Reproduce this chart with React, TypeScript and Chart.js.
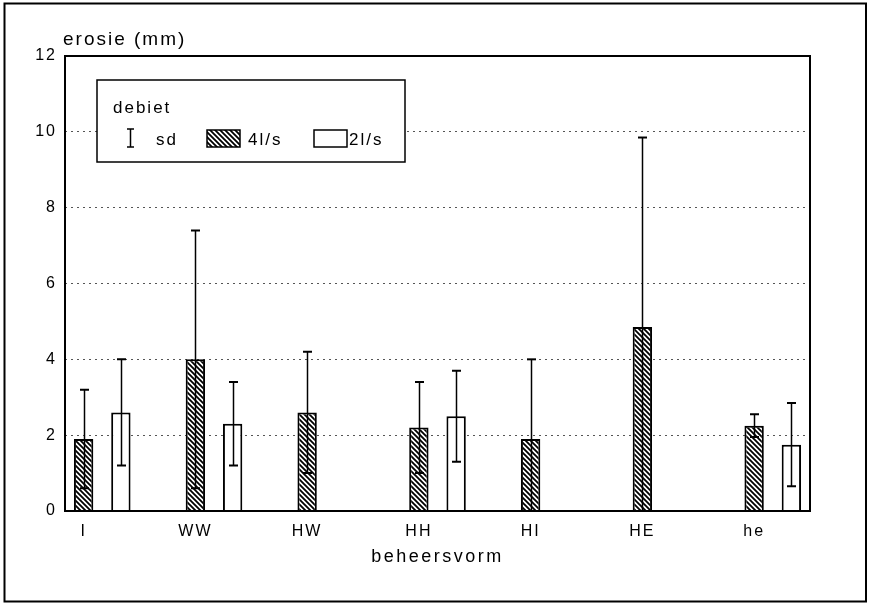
import React, { useEffect, useRef } from 'react';
import { Chart, registerables } from 'chart.js';

Chart.register(...registerables);

// ---- data ----
const categories = ['I', 'WW', 'HW', 'HH', 'HI', 'HE', 'he'];
const erosion4 = [1.9, 4.0, 2.6, 2.2, 1.9, 4.85, 2.25];
const sd4 = [1.3, 3.4, 1.6, 1.2, 2.1, 5.0, 0.3];
const erosion2: (number | null)[] = [2.6, 2.3, null, 2.5, null, null, 1.75];
const sd2: (number | null)[] = [1.4, 1.1, null, 1.2, null, null, 1.1];
const yMin = 0;
const yMax = 12;
const yStep = 2;
const yTitle = 'erosie (mm)';
const xTitle = 'beheersvorm';
const legendTitle = 'debiet';
const legendSd = 'sd';
const series4Label = '4l/s';
const series2Label = '2l/s';

const FONT = '"Liberation Sans", Arial, Helvetica, sans-serif';

// each category uses 3 slots: hatched bar, open bar, gap (last gap dropped)
const nSlots = categories.length * 3 - 1;
const slotLabels: string[] = [];
const slot4: (number | null)[] = [];
const slot2: (number | null)[] = [];
const slotSd4: (number | null)[] = [];
const slotSd2: (number | null)[] = [];
for (let k = 0; k < nSlots; k++) {
  const c = Math.floor(k / 3);
  const r = k % 3;
  slotLabels.push(r === 0 ? categories[c] : '');
  slot4.push(r === 0 ? erosion4[c] : null);
  slotSd4.push(r === 0 ? sd4[c] : null);
  slot2.push(r === 1 ? erosion2[c] : null);
  slotSd2.push(r === 1 ? sd2[c] : null);
}

function makeHatch(ctx: CanvasRenderingContext2D) {
  const c = document.createElement('canvas');
  c.width = 5;
  c.height = 5;
  const g = c.getContext('2d')!;
  g.fillStyle = '#fff';
  g.fillRect(0, 0, 5, 5);
  g.strokeStyle = '#000';
  g.lineWidth = 1.8;
  g.beginPath();
  g.moveTo(-1, -1);
  g.lineTo(6, 6);
  g.moveTo(-1, 4);
  g.lineTo(1, 6);
  g.moveTo(4, -1);
  g.lineTo(6, 1);
  g.stroke();
  return ctx.createPattern(c, 'repeat')!;
}

export default function App() {
  const ref = useRef<HTMLCanvasElement | null>(null);

  useEffect(() => {
    const canvas = ref.current!;
    const ctx0 = canvas.getContext('2d')!;
    const hatch = makeHatch(ctx0);

    const decor = {
      id: 'decor',
      beforeDraw(chart: any) {
        const ctx = chart.ctx;
        ctx.save();
        ctx.fillStyle = '#fff';
        ctx.fillRect(0, 0, chart.width, chart.height);
        ctx.restore();
        ctx.letterSpacing = '2px';
      },
      afterDatasetsDraw(chart: any) {
        const ctx = chart.ctx as CanvasRenderingContext2D;
        const ca = chart.chartArea;
        const yScale = chart.scales.y;
        ctx.save();
        ctx.beginPath();
        ctx.rect(ca.left, ca.top, ca.right - ca.left, ca.bottom - ca.top);
        ctx.clip();
        ctx.strokeStyle = '#000';
        const sets: [number, (number | null)[]][] = [
          [0, slotSd4],
          [1, slotSd2],
        ];
        sets.forEach(([di, errs]) => {
          const meta = chart.getDatasetMeta(di);
          const vals = chart.data.datasets[di].data;
          meta.data.forEach((el: any, k: number) => {
            const v = vals[k];
            const e = errs[k];
            if (v == null || e == null) return;
            const x = Math.round(el.x) + 0.5;
            const hi = v + e;
            const lo = v - e;
            const yT = yScale.getPixelForValue(hi);
            const yB = yScale.getPixelForValue(Math.max(lo, yMin));
            ctx.lineWidth = 1.5;
            ctx.beginPath();
            ctx.moveTo(x, yB);
            ctx.lineTo(x, yT);
            ctx.stroke();
            ctx.lineWidth = 2;
            ctx.beginPath();
            ctx.moveTo(x - 4.5, yT);
            ctx.lineTo(x + 4.5, yT);
            if (lo > yMin) {
              ctx.moveTo(x - 4.5, yB);
              ctx.lineTo(x + 4.5, yB);
            }
            ctx.stroke();
          });
        });
        ctx.restore();
        // plot frame
        ctx.save();
        ctx.strokeStyle = '#000';
        ctx.lineWidth = 2;
        ctx.strokeRect(ca.left, ca.top, ca.right - ca.left, ca.bottom - ca.top);
        ctx.restore();
      },
      afterDraw(chart: any) {
        const ctx = chart.ctx as CanvasRenderingContext2D;
        const ca = chart.chartArea;
        ctx.save();
        ctx.fillStyle = '#000';
        ctx.textBaseline = 'middle';
        // y title
        (ctx as any).letterSpacing = '2px';
        ctx.font = `19px ${FONT}`;
        ctx.textAlign = 'left';
        ctx.fillText(yTitle, ca.left - 2, ca.top - 16);
        // x title
        (ctx as any).letterSpacing = '2.5px';
        ctx.font = `18px ${FONT}`;
        ctx.textAlign = 'center';
        ctx.fillText(xTitle, (ca.left + ca.right) / 2, ca.bottom + 46);

        // legend
        const L = ca.left + 32;
        const T = ca.top + 24;
        const W = 308;
        const H = 82;
        ctx.fillStyle = '#fff';
        ctx.fillRect(L, T, W, H);
        ctx.strokeStyle = '#000';
        ctx.lineWidth = 1.5;
        ctx.strokeRect(L, T, W, H);
        ctx.fillStyle = '#000';
        ctx.textAlign = 'left';
        (ctx as any).letterSpacing = '2px';
        ctx.font = `17px ${FONT}`;
        ctx.fillText(legendTitle, L + 16, T + 28);
        // sd icon
        const ix = L + 33.5;
        ctx.lineWidth = 1.5;
        ctx.beginPath();
        ctx.moveTo(ix, T + 49);
        ctx.lineTo(ix, T + 67);
        ctx.moveTo(ix - 3.5, T + 49);
        ctx.lineTo(ix + 3.5, T + 49);
        ctx.moveTo(ix - 3.5, T + 67);
        ctx.lineTo(ix + 3.5, T + 67);
        ctx.stroke();
        ctx.fillText(legendSd, L + 59, T + 60);
        // hatched swatch
        ctx.fillStyle = hatch;
        ctx.fillRect(L + 110, T + 50, 33, 17);
        ctx.strokeRect(L + 110, T + 50, 33, 17);
        ctx.fillStyle = '#000';
        ctx.fillText(series4Label, L + 151, T + 60);
        // open swatch
        ctx.fillStyle = '#fff';
        ctx.fillRect(L + 217, T + 50, 33, 17);
        ctx.strokeRect(L + 217, T + 50, 33, 17);
        ctx.fillStyle = '#000';
        ctx.fillText(series2Label, L + 252, T + 60);

        // outer frame
        ctx.lineWidth = 2;
        ctx.strokeRect(4.5, 3.5, 861.5, 598);
        ctx.restore();
        (ctx as any).letterSpacing = '0px';
      },
    };

    const chart = new Chart(canvas, {
      type: 'bar',
      data: {
        labels: slotLabels,
        datasets: [
          {
            label: series4Label,
            data: slot4,
            backgroundColor: hatch,
            borderColor: '#000',
            borderWidth: 2,
            borderSkipped: 'start',
            grouped: false,
            barPercentage: 0.52,
            categoryPercentage: 1,
          },
          {
            label: series2Label,
            data: slot2,
            backgroundColor: '#fff',
            borderColor: '#000',
            borderWidth: 2,
            borderSkipped: 'start',
            grouped: false,
            barPercentage: 0.52,
            categoryPercentage: 1,
          },
        ],
      } as any,
      options: {
        animation: false,
        responsive: false,
        maintainAspectRatio: false,
        devicePixelRatio: 1,
        layout: { padding: { left: 4, top: 56, right: 59, bottom: 0 } },
        plugins: {
          legend: { display: false },
          title: { display: false },
          tooltip: { enabled: false },
        },
        scales: {
          x: {
            type: 'category',
            offset: true,
            grid: { display: false, drawTicks: false },
            border: { display: false },
            ticks: {
              autoSkip: false,
              maxRotation: 0,
              minRotation: 0,
              padding: 11,
              color: '#000',
              font: { family: FONT, size: 16 },
            },
            afterFit(scale: any) {
              scale.height = 93;
            },
          },
          y: {
            min: yMin,
            max: yMax,
            grid: {
              drawTicks: false,
              lineWidth: 1,
              color: (c: any) =>
                c.tick && (c.tick.value === yMin || c.tick.value === yMax) ? 'rgba(0,0,0,0)' : '#555',
            },
            border: { display: false, dash: [2, 4] },
            ticks: {
              stepSize: yStep,
              padding: 8,
              color: '#000',
              font: { family: FONT, size: 16 },
            },
            afterFit(scale: any) {
              scale.width = 61;
            },
          },
        },
      } as any,
      plugins: [decor],
    });

    return () => chart.destroy();
  }, []);

  return (
    <div style={{ position: 'absolute', left: 0, top: 0, width: 869, height: 604 }}>
      <canvas ref={ref} width={869} height={604} style={{ width: 869, height: 604, display: 'block' }} />
    </div>
  );
}
